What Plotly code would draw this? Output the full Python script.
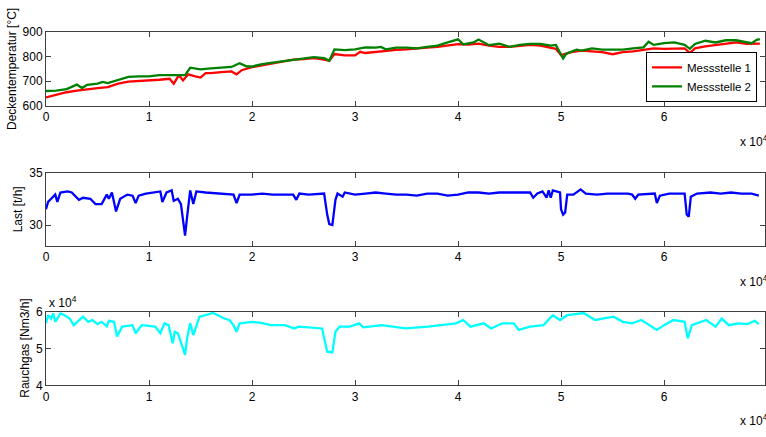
import plotly.graph_objects as go

# ---------------- data ----------------
temp_x1 = [0, 1000, 2000, 3000, 4000, 5000, 6000, 7000, 8000, 9000, 10000, 11000, 12000, 12400, 12800,
           13000, 13300, 13800, 14500, 15000, 15500, 16000, 17000, 18000, 18500, 19000, 20000, 21000,
           22000, 23000, 24000, 25000, 26000, 27000, 27500, 28000, 29000, 30000, 30500, 31000, 32000,
           33000, 34000, 35000, 36000, 37000, 38000, 39000, 40000, 41000, 42000, 43000, 44000, 45000,
           46000, 47000, 48000, 49000, 49500, 50000, 50500, 51000, 52000, 53000, 54000, 55000, 56000,
           57000, 58000, 59000, 60000, 61000, 62000, 62500, 63000, 64000, 65000, 66000, 67000, 68000,
           69000, 69300]
temp_m1 = [634, 645, 655, 662, 668, 672, 676, 690, 698, 700, 704, 706, 710, 690, 718,
           720, 703, 728, 720, 715, 733, 733, 737, 740, 728, 745, 757, 765,
           772, 780, 788, 790, 794, 788, 784, 811, 805, 805, 820, 815, 820,
           825, 828, 830, 832, 837, 840, 847, 851, 849, 853, 845, 840, 840,
           845, 848, 845, 838, 832, 806, 812, 819, 825, 822, 819, 810, 819,
           822, 829, 834, 832, 834, 834, 815, 834, 842, 848, 855, 858, 852,
           852, 853]

temp_x2 = [0, 1000, 2000, 3000, 3500, 4000, 5000, 5500, 6000, 7000, 8000, 9000, 10000, 11000, 12000,
           13000, 13500, 14000, 14500, 15000, 16000, 17000, 18000, 18800, 19500, 20000, 21000, 22000,
           23000, 24000, 25000, 26000, 27000, 27500, 28000, 29000, 30000, 31000, 32000, 32500, 33000,
           34000, 35000, 36000, 37000, 38000, 39000, 40000, 40500, 41500, 42000, 43000, 44000, 45000,
           46000, 47000, 48000, 49000, 49500, 50200, 50500, 51000, 51500, 52000, 53000, 54000, 55000,
           56000, 57000, 58000, 58500, 59000, 60000, 61000, 62000, 62500, 63000, 64000, 65000, 66000,
           67000, 68000, 68500, 69000, 69300]
temp_m2 = [660, 662, 668, 686, 672, 685, 690, 697, 692, 705, 718, 720, 720, 725, 725,
           722, 725, 755, 750, 748, 752, 755, 758, 773, 760, 760, 770, 776,
           782, 788, 793, 798, 794, 784, 830, 827, 830, 838, 837, 840, 830,
           837, 837, 834, 840, 845, 858, 871, 850, 858, 870, 847, 853, 840,
           848, 852, 852, 845, 848, 793, 812, 819, 829, 825, 834, 829, 829,
           829, 834, 838, 861, 848, 855, 858, 848, 832, 852, 865, 858, 867,
           867, 861, 855, 869, 872]

last_x = [0, 200, 500, 900, 1100, 1400, 2100, 2500, 3200, 3600, 4300, 4800, 5400, 5900, 6100, 6400,
          6800, 7200, 7900, 8400, 8700, 9000, 9700, 10500, 11100, 11300, 11700, 12200, 12400, 12800,
          13100, 13300, 13500, 13700, 14000, 14300, 14600, 15500, 16500, 17500, 18200, 18500, 18800,
          20000, 21000, 22000, 23000, 24000, 24300, 24600, 25500, 26500, 27000, 27300, 27500, 27800,
          28100, 28300, 28800, 29000, 30000, 31000, 32000, 33000, 34000, 35000, 36000, 37000, 38000,
          39000, 40000, 41000, 42000, 43000, 44000, 45000, 46000, 47000, 47300, 47700, 48200, 48600,
          48800, 49000, 49200, 49900, 50000, 50200, 50400, 50600, 51200, 51900, 52400, 53500, 54500,
          55500, 56500, 56900, 57200, 57500, 58500, 59100, 59300, 59600, 60500, 61500, 62000, 62200,
          62400, 62600, 63200, 64500, 65500, 66500, 67500, 68500, 69200]
last_y = [31.5, 32.2, 32.5, 32.9, 32.2, 33.1, 33.2, 33.1, 32.4, 32.6, 32.5, 32.0, 32.0, 32.9, 32.5, 33.1,
          31.3, 32.5, 32.9, 32.8, 32.1, 32.8, 33.0, 33.1, 33.2, 32.2, 33.1, 33.3, 32.3, 32.5,
          32.0, 30.5, 29.0, 30.8, 33.3, 32.0, 33.2, 33.1, 33.0, 32.9, 32.9, 32.1, 32.9,
          32.9, 33.0, 32.9, 32.9, 32.9, 32.4, 33.0, 32.9, 33.0, 33.0, 31.0, 30.1, 30.0,
          32.4, 33.0, 32.7, 33.1, 32.9, 33.0, 33.1, 33.0, 32.9, 32.9, 32.8, 33.0, 33.0,
          32.8, 32.9, 33.1, 33.1, 33.0, 33.1, 33.1, 33.1, 33.1, 32.6, 33.0, 33.2, 32.6,
          33.3, 32.6, 33.3, 33.1, 31.5, 31.0, 31.2, 32.9, 32.9, 33.4, 33.0, 32.9, 33.0,
          33.0, 33.0, 32.9, 32.5, 32.9, 33.0, 33.0, 32.1, 32.8, 33.0, 33.0, 33.0, 31.0,
          30.8, 32.7, 33.0, 33.1, 33.0, 33.1, 33.0, 33.0, 32.8]

gas_x = [0, 200, 500, 700, 900, 1400, 1800, 2300, 2700, 3200, 3600, 4100, 4500, 5000, 5400, 5900,
         6100, 6600, 6900, 7400, 8400, 8700, 9300, 10600, 11100, 11500, 11900, 12300, 12500, 12800,
         13100, 13500, 13700, 14000, 14300, 14900, 15500, 16200, 16700, 17300, 17800, 18200, 18500,
         18800, 20000, 20900, 21800, 23200, 24100, 24500, 26800, 27300, 27800, 28100, 28500, 29500,
         30400, 30800, 32600, 34900, 37100, 39800, 40500, 41200, 42500, 43200, 44300, 45400, 45900,
         47000, 48300, 49200, 49900, 50600, 52200, 53300, 55100, 56000, 56900, 57800, 59300, 60000,
         60900, 62000, 62300, 62700, 64100, 65000, 65600, 66300, 67200, 68100, 68800, 69200]
gas_y = [56900, 59100, 58200, 59600, 57300, 59600, 59100, 58200, 56400, 57800, 58700, 57300, 57800,
         56700, 57300, 56100, 57600, 57300, 53300, 56000, 56400, 54200, 56400, 56000, 54200, 56900,
         56400, 51500, 54600, 54200, 51900, 48300, 52800, 56900, 53700, 58700, 59100, 59700, 59100,
         58200, 57800, 56400, 54600, 56900, 57300, 57000, 56400, 56400, 55500, 56000, 55500, 49200,
         49000, 54600, 56000, 56000, 56900, 55800, 56400, 55500, 56000, 56900, 57800, 56000, 56900,
         55500, 56900, 56900, 55100, 56000, 56400, 59100, 57800, 59100, 59700, 57800, 58700, 57300,
         56900, 57800, 55100, 56400, 57800, 57300, 52800, 56400, 57800, 56000, 58200, 56400, 56900,
         56700, 57600, 56700]

x_ticks = [0, 10000, 20000, 30000, 40000, 50000, 60000, 70000]
x_tick_text = ["0", "1", "2", "3", "4", "5", "6", "7"]
gas_ticks = [40000, 50000, 60000]
gas_tick_text = ["4", "5", "6"]

# ---------------- figure ----------------
W, H = 766, 437
ML = 46
PW = W - ML
FONT = "Liberation Sans, Arial, sans-serif"


def ydom(top_px, bot_px):
    return [1 - bot_px / H, 1 - top_px / H]


fig = go.Figure()
fig.add_trace(go.Scatter(x=temp_x1, y=temp_m1, mode="lines", name="Messstelle 1",
                         line=dict(color="rgb(255,0,0)", width=2.3), xaxis="x", yaxis="y"))
fig.add_trace(go.Scatter(x=temp_x2, y=temp_m2, mode="lines", name="Messstelle 2",
                         line=dict(color="rgb(0,128,0)", width=2.3), xaxis="x", yaxis="y"))
fig.add_trace(go.Scatter(x=last_x, y=last_y, mode="lines", showlegend=False,
                         line=dict(color="rgb(0,0,255)", width=2.3), xaxis="x2", yaxis="y2"))
fig.add_trace(go.Scatter(x=gas_x, y=gas_y, mode="lines", showlegend=False,
                         line=dict(color="rgb(0,255,255)", width=2.3), xaxis="x3", yaxis="y3"))

axis_common = dict(showline=True, linecolor="#404040", linewidth=1, mirror="allticks",
                   ticks="inside", ticklen=5, tickcolor="#404040", showgrid=False,
                   zeroline=False, tickfont=dict(family=FONT, size=12, color="black"))

xr = [0, 69800]
for i, (tp, bp) in enumerate([(26, 102), (171, 247), (315, 391)]):
    sfx = "" if i == 0 else str(i + 1)
    fig.update_layout(**{
        "xaxis" + sfx: dict(axis_common, domain=[0, 1], range=xr, tickvals=x_ticks,
                            ticktext=x_tick_text, anchor="y" + sfx),
        "yaxis" + sfx: dict(axis_common, domain=ydom(tp, bp), anchor="x" + sfx),
    })

fig.update_layout(
    yaxis=dict(range=[600, 900], tickvals=[600, 700, 800, 900]),
    yaxis2=dict(range=[28, 35], tickvals=[30, 35]),
    yaxis3=dict(range=[40000, 60000], tickvals=gas_ticks, ticktext=gas_tick_text),
)

ann = []
def px_x(px):
    return (px - ML) / PW

def px_y(py):
    return 1 - py / H

# y-axis titles
for txt, xp, yp in [("Deckentemperatur [°C]", 12, 64), ("Last [t/h]", 18, 209),
                    ("Rauchgas [Nm3/h]", 25, 353)]:
    ann.append(dict(text=txt, x=px_x(xp), y=px_y(yp), xref="paper", yref="paper",
                    textangle=-90, showarrow=False, xanchor="center", yanchor="middle",
                    font=dict(family=FONT, size=12, color="black")))

# exponent labels
for yp in [138, 283, 427]:
    ann.append(dict(text="x 10<sup>4</sup>", x=px_x(739), y=px_y(yp), xref="paper", yref="paper",
                    showarrow=False, xanchor="left", yanchor="middle",
                    font=dict(family=FONT, size=12, color="black")))
ann.append(dict(text="x 10<sup>4</sup>", x=px_x(47), y=px_y(305), xref="paper", yref="paper",
                showarrow=False, xanchor="left", yanchor="middle",
                font=dict(family=FONT, size=12, color="black")))

fig.update_layout(
    width=W, height=H,
    margin=dict(l=ML, r=0, t=0, b=0),
    paper_bgcolor="white", plot_bgcolor="white",
    annotations=ann,
    showlegend=True,
    legend=dict(x=px_x(758), y=px_y(98), xanchor="right", yanchor="bottom",
                bordercolor="black", borderwidth=1, bgcolor="white",
                font=dict(family=FONT, size=11.5, color="black"),
                tracegroupgap=0, itemwidth=30),
)

fig.write_html("out.html")
